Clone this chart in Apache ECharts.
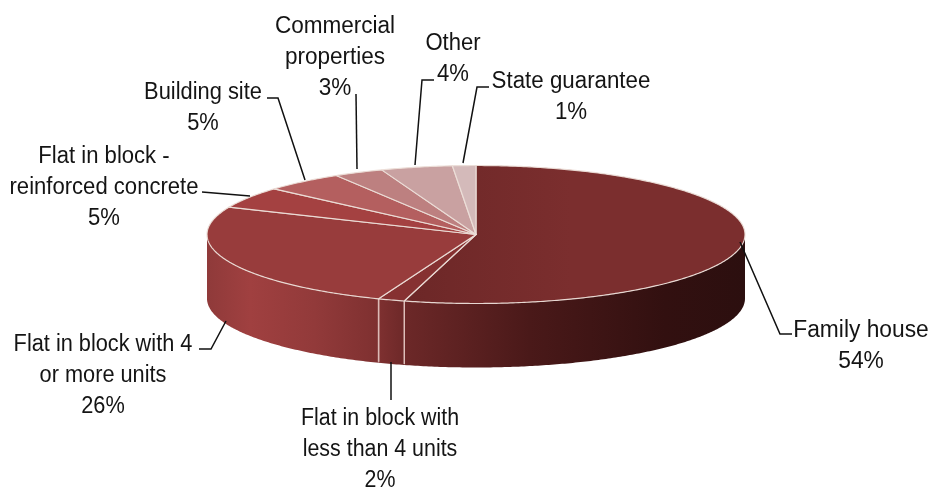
<!DOCTYPE html>
<html><head><meta charset="utf-8">
<style>html,body{margin:0;padding:0;background:#fff}#c{width:932px;height:488px}</style>
<script src="https://cdn.jsdelivr.net/npm/echarts@6/dist/echarts.min.js"></script>
</head><body><div id="c"></div>
<script>
const categories = ['Family house','Flat in block with less than 4 units','Flat in block with 4 or more units','Flat in block - reinforced concrete','Building site','Commercial properties','Other','State guarantee'];
const shares = [54.3,1.6,25.6,5,4.8,3,4.3,1.4];
const percentLabels = ['54%','2%','26%','5%','5%','3%','4%','1%'];
const labelLines = [['Family house'],['Flat in block with','less than 4 units'],['Flat in block with 4','or more units'],['Flat in block -','reinforced concrete'],['Building site'],['Commercial','properties'],['Other'],['State guarantee']];

// layout and style, separate from the values
const CX=476, CY=234.5, RX=269, RY=69, DEPTH=64;
const labelPos = [[861,331],[380,418.5],[103,344.5],[104,156.5],[203,92.5],[335,26.5],[453,44],[571,81.5]];
const labelScale = [0.99,0.93,0.945,0.96,0.95,0.98,0.96,0.97];
const leaders = [
 [[740,242],[780,334],[792,334]],
 [[391,362],[391,400]],
 [[226,321],[211,349],[199,349]],
 [[250,196],[202,192]],
 [[305,180],[278,98],[267,98]],
 [[357,169],[356,94]],
 [[415,165],[422,80],[434,80]],
 [[463,163],[477,87],[489,87]]
];
const SEAM='rgba(236,222,216,0.95)';
const LINE_H=31;
const familyTop=new echarts.graphic.LinearGradient(404,0,570,0,[{offset:0,color:'#6c2727'},{offset:1,color:'#7b2e2e'}],true);
const topColors = [familyTop,'#863131','#983c3c','#a44141','#b45f5f','#bd8080','#c9a1a1','#d4baba'];

const total = shares.reduce((a,b)=>a+b,0);
const starts = []; shares.reduce((a,b,i)=>{starts[i]=a;return a+b;},0);
const pt=(a,dy)=>{const t=a/total*2*Math.PI;return [CX+RX*Math.sin(t),CY-RY*Math.cos(t)+(dy||0)];};
const arc=(a,b,dy)=>{const n=Math.max(2,Math.ceil((b-a)*6));const r=[];for(let i=0;i<=n;i++)r.push(pt(a+(b-a)*i/n,dy));return r;};

const sideFill=new echarts.graphic.LinearGradient(207,0,745,0,[
 {offset:0,color:'#8f3a3a'},{offset:0.08,color:'#a04040'},{offset:0.2,color:'#923a3a'},
 {offset:0.32,color:'#7e3030'},{offset:0.37,color:'#6c2828'},{offset:0.6,color:'#4a1919'},
 {offset:0.85,color:'#321010'},{offset:1,color:'#2c0f0f'}],true);

function renderSide(params,api){
  const s=api.value(0), e=s+api.value(1);
  const a=Math.max(s,total/4), b=Math.min(e,total*3/4);
  if(b<=a) return {type:'group',children:[]};
  const top=arc(a,b,0), bot=arc(a,b,DEPTH).reverse();
  const kids=[{type:'polygon',shape:{points:top.concat(bot)},style:{fill:sideFill,stroke:null}}];
  [s,e].forEach(v=>{ if(v>total/4 && v<total*3/4)
    kids.push({type:'line',shape:{x1:pt(v)[0],y1:pt(v)[1],x2:pt(v)[0],y2:pt(v,DEPTH)[1]-1},style:{stroke:'rgba(232,205,200,0.8)',lineWidth:1.5}}); });
  return {type:'group',children:kids};
}
function renderTop(params,api){
  const i=api.value(2), s=api.value(0), e=s+api.value(1);
  return {type:'polygon',shape:{points:[[CX,CY]].concat(arc(s,e,0))},
    style:{fill:topColors[i],stroke:SEAM,lineWidth:1.2,lineJoin:'round'}};
}
function renderLabel(params,api){
  const i=api.value(2);
  const lines=labelLines[i].concat(percentLabels[i]);
  const kids=lines.map((t,k)=>({type:'text',x:labelPos[i][0],y:labelPos[i][1]+k*LINE_H,scaleX:labelScale[i],scaleY:1,
    style:{text:t,x:0,y:0,align:'center',verticalAlign:'middle',fill:'#141414',font:'23px "Liberation Sans", Arial, sans-serif'}}));
  kids.push({type:'polyline',shape:{points:leaders[i]},style:{fill:'none',stroke:'#111',lineWidth:1.5}});
  return {type:'group',children:kids};
}
const rows=shares.map((v,i)=>[starts[i],v,i,categories[i]]);
const chart=echarts.init(document.getElementById('c'),null,{renderer:'canvas'});
chart.setOption({
  animation:false,
  series:[
    {type:'custom',coordinateSystem:'none',renderItem:renderSide,data:rows,z:1,silent:true},
    {type:'custom',coordinateSystem:'none',renderItem:renderTop,data:rows,z:2,silent:true},
    {type:'custom',coordinateSystem:'none',renderItem:renderLabel,data:rows,z:3,silent:true}
  ]
});
</script></body></html>
